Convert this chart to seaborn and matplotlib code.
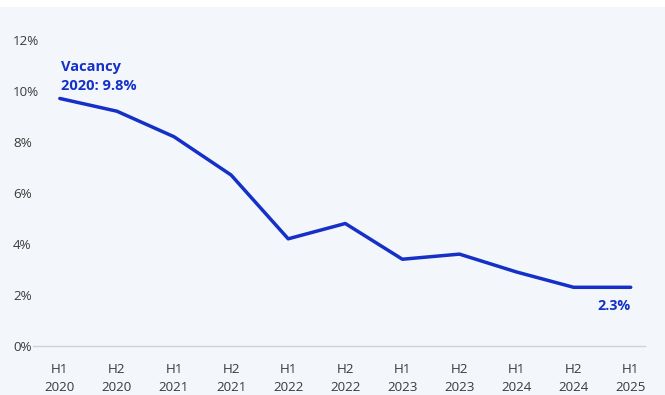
import matplotlib
matplotlib.use("Agg")
import matplotlib.pyplot as plt
import seaborn as sns
import pandas as pd

periods = ["H1\n2020", "H2\n2020", "H1\n2021", "H2\n2021", "H1\n2022", "H2\n2022",
           "H1\n2023", "H2\n2023", "H1\n2024", "H2\n2024", "H1\n2025"]
vacancy = [9.7, 9.2, 8.2, 6.7, 4.2, 4.8, 3.4, 3.6, 2.9, 2.3, 2.3]
y_ticks = [0, 2, 4, 6, 8, 10, 12]
y_tick_labels = ["0%", "2%", "4%", "6%", "8%", "10%", "12%"]
start_label = "Vacancy\n2020: 9.8%"
end_label = "2.3%"

df = pd.DataFrame({"idx": range(len(periods)), "vacancy": vacancy})

sns.set_theme(style="white")
plt.rcParams["font.family"] = ["Open Sans", "DejaVu Sans"]

BG = "#f3f7fb"
BLUE = "#1530c6"
TXT = "#3a3a3a"

fig = plt.figure(figsize=(6.65, 3.95), dpi=100, facecolor=BG)
# white strip at top
fig.patches.append(plt.Rectangle((0, (395 - 7) / 395), 1, 7 / 395, transform=fig.transFigure,
                                 facecolor="white", edgecolor="none", zorder=0))
ax = fig.add_axes([33 / 665, (395 - 346) / 395, (645 - 33) / 665, (346 - 27) / 395])
ax.set_facecolor(BG)

sns.lineplot(data=df, x="idx", y="vacancy", ax=ax, color=BLUE, linewidth=2.5)

ax.set_xlim(-0.47, 10.25)
ax.set_ylim(0, 12.5)
ax.set_yticks(y_ticks)
ax.set_yticklabels(y_tick_labels, color=TXT, fontsize=9.6)
for lbl in ax.get_yticklabels():
    lbl.set_horizontalalignment("left")
ax.set_xticks(range(len(periods)))
ax.set_xticklabels(periods, color=TXT, fontsize=9.6, linespacing=1.45)
ax.tick_params(axis="both", length=0)
ax.tick_params(axis="y", pad=14.4)
ax.tick_params(axis="x", pad=12.5)
ax.set_xlabel("")
ax.set_ylabel("")
for s in ["top", "right", "left"]:
    ax.spines[s].set_visible(False)
ax.spines["bottom"].set_color("#cfd3d8")
ax.spines["bottom"].set_linewidth(1.0)

ax.annotate(start_label, xy=(0, vacancy[0]), xytext=(0.02, 10.55), textcoords="data",
            ha="left", va="center", fontsize=10.5, fontweight="bold", color=BLUE,
            linespacing=1.45)
ax.annotate(end_label, xy=(10, vacancy[-1]), xytext=(10, 1.55), textcoords="data",
            ha="right", va="center", fontsize=10.3, fontweight="bold", color=BLUE)

fig.savefig("out.png", dpi=100, facecolor=BG)
